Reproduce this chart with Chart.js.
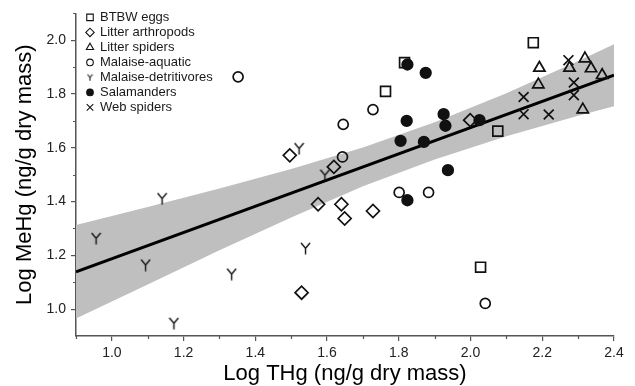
<!DOCTYPE html>
<html>
<head>
<meta charset="utf-8">
<script src="https://cdn.jsdelivr.net/npm/chart.js@4.4.1/dist/chart.umd.min.js"></script>
<style>
  html, body { margin: 0; padding: 0; background: #fff; }
  #wrap { width: 635px; height: 386px; }
</style>
</head>
<body>
<div id="wrap"><canvas id="chart" width="635" height="386"></canvas></div>
<script>
// values (log10 units)
var seriesNames = ["BTBW eggs", "Litter arthropods", "Litter spiders", "Malaise-aquatic", "Malaise-detritivores", "Salamanders", "Web spiders"];

var btbwX = [1.816, 1.763, 2.175, 2.076, 2.028];
var btbwY = [1.917, 1.810, 1.991, 1.662, 1.156];

var arthX = [1.496, 1.619, 1.575, 1.640, 1.649, 1.529, 1.728, 1.999];
var arthY = [1.572, 1.529, 1.390, 1.390, 1.337, 1.061, 1.365, 1.703];

var litSpX = [2.192, 2.189, 2.276, 2.319, 2.336, 2.367, 2.313];
var litSpY = [1.897, 1.835, 1.897, 1.932, 1.895, 1.870, 1.742];

var aquaX = [1.352, 1.645, 1.643, 1.728, 1.801, 1.883, 2.041];
var aquaY = [1.864, 1.687, 1.566, 1.742, 1.434, 1.434, 1.021];

var detrX = [0.956, 1.094, 1.140, 1.173, 1.334, 1.540, 1.522, 1.594];
var detrY = [1.263, 1.164, 1.411, 0.947, 1.130, 1.226, 1.597, 1.498];

var salaX = [1.824, 1.875, 1.822, 1.925, 1.930, 1.805, 1.870, 1.937, 2.025, 1.824];
var salaY = [1.910, 1.879, 1.700, 1.725, 1.682, 1.626, 1.622, 1.517, 1.703, 1.405];

var webX = [2.273, 2.288, 2.288, 2.148, 2.148, 2.218];
var webY = [1.926, 1.843, 1.796, 1.789, 1.725, 1.724];

// regression line and its confidence band
var fitX = [0.9, 2.4];
var fitY = [1.139, 1.870];
var bandX = [0.9, 1.1, 1.3, 1.5, 1.7, 1.9, 2.1, 2.3, 2.4];
var bandUpper = [1.313, 1.380, 1.449, 1.521, 1.601, 1.695, 1.803, 1.923, 1.985];
var bandLower = [0.965, 1.092, 1.219, 1.341, 1.457, 1.557, 1.643, 1.719, 1.755];

// axis ticks
var xTicks = [1.0, 1.2, 1.4, 1.6, 1.8, 2.0, 2.2, 2.4];
var xMinorTicks = [0.9, 1.1, 1.3, 1.5, 1.7, 1.9, 2.1, 2.3];
var yTicks = [1.0, 1.2, 1.4, 1.6, 1.8, 2.0];
var yMinorTicks = [1.1, 1.3, 1.5, 1.7, 1.9, 2.1];

function pts(xs, ys) {
  return xs.map(function (x, i) { return { x: x, y: ys[i] }; });
}

// "Y" marker for the malaise-detritivores
function makeY(w, h, lw) {
  var c = document.createElement('canvas');
  c.width = w; c.height = h;
  var g = c.getContext('2d');
  g.strokeStyle = '#111';
  g.lineWidth = lw;
  var mx = w / 2, my = h * 0.5;
  g.beginPath();
  g.moveTo(1, 1); g.lineTo(mx, my);
  g.lineTo(w - 1, 1);
  g.moveTo(mx, my); g.lineTo(mx, h - 0.5);
  g.stroke();
  return c;
}
var yMark = makeY(11, 13, 1.4);
var yMarkSmall = makeY(7, 8, 1.1);

var FONT = '"Liberation Sans", Arial, sans-serif';
var INK = '#111';
var AXIS = '#555';

function scatterSet(i, xs, ys, style, radius, filled, legendStyle, legendRadius) {
  return {
    label: seriesNames[i],
    data: pts(xs, ys),
    pointStyle: style,
    pointRadius: radius,
    pointHoverRadius: radius,
    pointBorderWidth: 1.7,
    pointBorderColor: INK,
    pointBackgroundColor: filled ? INK : 'rgba(0,0,0,0)',
    order: 0,
    legendStyle: legendStyle || style,
    legendRadius: legendRadius,
    filled: filled
  };
}

var datasets = [
  scatterSet(0, btbwX, btbwY, 'rect', 7, false, null, 4.6),
  scatterSet(1, arthX, arthY, 'rectRot', 6.5, false, null, 4.2),
  scatterSet(2, litSpX, litSpY, 'triangle', 6.5, false, null, 4.2),
  scatterSet(3, aquaX, aquaY, 'circle', 5, false, null, 3.3),
  scatterSet(4, detrX, detrY, yMark, 6, false, yMarkSmall, 4),
  scatterSet(5, salaX, salaY, 'circle', 5.3, true, null, 3.3),
  scatterSet(6, webX, webY, 'crossRot', 7, false, null, 4.6),
  {
    type: 'line', label: 'band upper', data: pts(bandX, bandUpper),
    borderWidth: 0, pointRadius: 0, fill: '+1', backgroundColor: '#bfbfbf',
    borderColor: 'rgba(0,0,0,0)', order: 2, isAux: true
  },
  {
    type: 'line', label: 'band lower', data: pts(bandX, bandLower),
    borderWidth: 0, pointRadius: 0, fill: false, borderColor: 'rgba(0,0,0,0)',
    order: 2, isAux: true
  },
  {
    type: 'line', label: 'fit', data: pts(fitX, fitY),
    borderWidth: 3, borderColor: '#000', pointRadius: 0, fill: false,
    order: 1, isAux: true
  }
];

// legend drawn inside the plot, top-left
var insideLegend = {
  id: 'insideLegend',
  afterDraw: function (chart) {
    var ctx = chart.ctx;
    var area = chart.chartArea;
    var sx = area.left + 14, tx = area.left + 24, y0 = area.top + 4, step = 15;
    ctx.save();
    ctx.font = '13px ' + FONT;
    ctx.textBaseline = 'middle';
    ctx.textAlign = 'left';
    var row = 0;
    chart.data.datasets.forEach(function (ds) {
      if (ds.isAux) return;
      var y = y0 + row * step;
      ctx.strokeStyle = INK;
      ctx.fillStyle = ds.filled ? INK : 'rgba(0,0,0,0)';
      ctx.lineWidth = 1.1;
      Chart.helpers.drawPoint(ctx, {
        pointStyle: ds.legendStyle, radius: ds.legendRadius, rotation: 0, borderWidth: 1.1
      }, sx, y);
      ctx.fillStyle = '#1a1a1a';
      ctx.fillText(ds.label, tx, y);
      row++;
    });
    ctx.restore();
  }
};

// short minor ticks between the labelled ones
var minorTicks = {
  id: 'minorTicks',
  afterDraw: function (chart) {
    var ctx = chart.ctx;
    var xs = chart.scales.x, ys = chart.scales.y;
    ctx.save();
    ctx.strokeStyle = AXIS;
    ctx.lineWidth = 1.2;
    ctx.beginPath();
    xMinorTicks.forEach(function (v) {
      var p = Math.round(xs.getPixelForValue(v)) + 0.5;
      ctx.moveTo(p, ys.bottom); ctx.lineTo(p, ys.bottom + 3);
    });
    yMinorTicks.forEach(function (v) {
      var p = Math.round(ys.getPixelForValue(v)) + 0.5;
      ctx.moveTo(xs.left, p); ctx.lineTo(xs.left - 3, p);
    });
    ctx.stroke();
    ctx.restore();
  }
};

var ctx = document.getElementById('chart').getContext('2d');
var chart = new Chart(ctx, {
  type: 'scatter',
  data: { datasets: datasets },
  options: {
    responsive: false,
    animation: false,
    layout: { padding: { top: 13, right: 21, left: 0, bottom: 0 } },
    plugins: {
      legend: { display: false },
      tooltip: { enabled: false }
    },
    scales: {
      x: {
        type: 'linear',
        min: 0.9, max: 2.4,
        afterBuildTicks: function (scale) {
          scale.ticks = xTicks.map(function (v) { return { value: v }; });
        },
        afterFit: function (scale) { scale.height = 50; },
        grid: { drawOnChartArea: false, tickLength: 5, tickColor: AXIS, lineWidth: 1.2 },
        border: { display: true, color: AXIS, width: 1.5 },
        ticks: {
          padding: 4, color: '#222', font: { family: FONT, size: 14 },
          maxRotation: 0,
          callback: function (v) { return v.toFixed(1); }
        },
        title: {
          display: true, text: 'Log THg (ng/g dry mass)', color: '#000',
          font: { family: FONT, size: 22, lineHeight: 1 },
          padding: { top: 0, bottom: 1 }
        }
      },
      y: {
        type: 'linear',
        min: 0.9, max: 2.1,
        afterBuildTicks: function (scale) {
          scale.ticks = yTicks.map(function (v) { return { value: v }; });
        },
        afterFit: function (scale) { scale.width = 76; },
        grid: { drawOnChartArea: false, tickLength: 5, tickColor: AXIS, lineWidth: 1.2 },
        border: { display: true, color: AXIS, width: 1.5 },
        ticks: {
          padding: 5, color: '#222', font: { family: FONT, size: 14 },
          callback: function (v) { return v.toFixed(1); }
        },
        title: {
          display: true, text: 'Log MeHg (ng/g dry mass)', color: '#000',
          font: { family: FONT, size: 22, lineHeight: 1 },
          padding: { top: 14, bottom: 0 }
        }
      }
    }
  },
  plugins: [insideLegend, minorTicks]
});
</script>
</body>
</html>
